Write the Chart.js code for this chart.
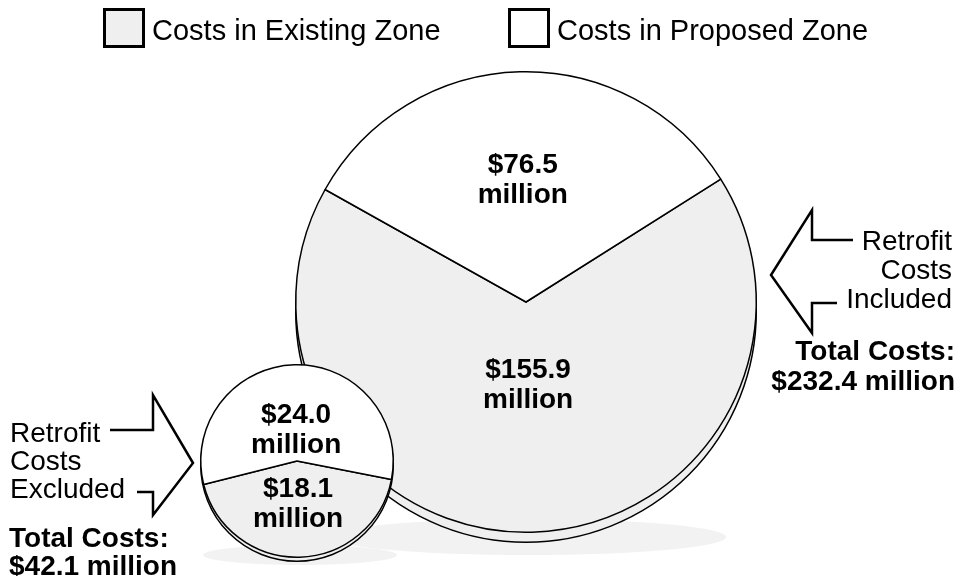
<!DOCTYPE html>
<html>
<head>
<meta charset="utf-8">
<script src="https://cdn.jsdelivr.net/npm/chart.js@4.4.1/dist/chart.umd.min.js"></script>
<style>
  body { margin: 0; background: #fff; }
  #wrap { position: relative; width: 961px; height: 576px; }
  #wrap canvas { position: absolute; left: 0; top: 0; }
</style>
</head>
<body>
<div id="wrap">
  <canvas id="pieIncluded" width="961" height="576"></canvas>
  <canvas id="pieExcluded" width="961" height="576"></canvas>
</div>
<script>
const zones = ['Costs in Existing Zone', 'Costs in Proposed Zone'];
const costsIncluded = [155.9, 76.5];   // retrofit costs included, $ million
const costsExcluded = [18.1, 24.0];    // retrofit costs excluded, $ million
const zoneColors = ['#efefef', '#ffffff'];

const font = (size, bold) => (bold ? 'bold ' : '') + size + 'px "Liberation Sans", Arial, sans-serif';
const total = vals => vals.reduce((a, b) => a + b, 0);
// keep the proposed-zone slice centred at the top
const rotationFor = vals => 180 * vals[1] / total(vals) - 1.5;

const pieRim = {
    id: 'pieRim',
    beforeDatasetsDraw(chart, args, opts) {
        const arc = chart.getDatasetMeta(0).data[0];
        const ctx = chart.ctx;
        ctx.save();
        ctx.beginPath();
        ctx.arc(arc.x, arc.y + opts.drop, arc.outerRadius, 0, Math.PI * 2);
        ctx.fillStyle = '#efefef';
        ctx.fill();
        ctx.lineWidth = 1.5;
        ctx.strokeStyle = '#000';
        ctx.stroke();
        ctx.restore();
    }
};

const sliceLabels = {
    id: 'sliceLabels',
    afterDatasetsDraw(chart, args, opts) {
        const ctx = chart.ctx;
        const values = chart.data.datasets[0].data;
        chart.getDatasetMeta(0).data.forEach((arc, i) => {
            const mid = (arc.startAngle + arc.endAngle) / 2;
            const d = arc.outerRadius * opts.depth[i];
            const x = arc.x + Math.cos(mid) * d;
            const y = arc.y + Math.sin(mid) * d;
            ctx.save();
            ctx.font = font(28, true);
            ctx.fillStyle = '#000';
            ctx.textAlign = 'center';
            ctx.textBaseline = 'alphabetic';
            ctx.fillText('$' + values[i].toFixed(1), x, y - 5);
            ctx.fillText('million', x, y + 25);
            ctx.restore();
        });
    }
};

const drawArrow = (ctx, pts) => {
    ctx.beginPath();
    pts.forEach((p, i) => i ? ctx.lineTo(p[0], p[1]) : ctx.moveTo(p[0], p[1]));
    ctx.stroke();
};

const writeLines = (ctx, lines, x, align, bold) => {
    ctx.font = font(28, bold);
    ctx.textAlign = align;
    lines.forEach(l => ctx.fillText(l[0], x, l[1]));
};

const decorations = {
    id: 'decorations',
    beforeDraw(chart) {
        const ctx = chart.ctx;
        ctx.save();
        ctx.fillStyle = '#f2f2f2';
        ctx.beginPath();
        ctx.ellipse(528, 537, 198, 18, 0, 0, Math.PI * 2);
        ctx.fill();
        ctx.beginPath();
        ctx.ellipse(300, 555, 97, 10, 0, 0, Math.PI * 2);
        ctx.fill();
        ctx.restore();
    },
    afterDraw(chart) {
        const ctx = chart.ctx;
        ctx.save();
        ctx.fillStyle = '#000';
        ctx.textBaseline = 'alphabetic';

        // legend
        const boxX = [103, 508];
        zones.forEach((z, i) => {
            ctx.fillStyle = zoneColors[i];
            ctx.fillRect(boxX[i], 8, 42, 40);
            ctx.lineWidth = 3;
            ctx.strokeStyle = '#000';
            ctx.strokeRect(boxX[i] + 1.5, 9.5, 39, 37);
            ctx.fillStyle = '#000';
            ctx.font = font(29, false);
            ctx.textAlign = 'left';
            ctx.fillText(z, boxX[i] + 49, 39.5);
        });

        // arrows
        ctx.lineWidth = 2.5;
        ctx.lineJoin = 'miter';
        ctx.strokeStyle = '#000';
        drawArrow(ctx, [[110, 430], [153, 430], [153, 395], [193, 463], [153, 515], [153, 492], [137, 492]]);
        drawArrow(ctx, [[853, 240], [812, 240], [812, 210], [771, 275], [812, 333], [812, 303], [837, 303]]);

        // side notes
        writeLines(ctx, [['Retrofit', 442], ['Costs', 470], ['Excluded', 498]], 10, 'left', false);
        writeLines(ctx, [['Total Costs:', 547], ['$' + total(costsExcluded).toFixed(1) + ' million', 575]], 9, 'left', true);
        writeLines(ctx, [['Retrofit', 250], ['Costs', 279], ['Included', 308]], 952, 'right', false);
        writeLines(ctx, [['Total Costs:', 360], ['$' + total(costsIncluded).toFixed(1) + ' million', 390]], 955, 'right', true);
        ctx.restore();
    }
};

const makePie = (id, values, padding, drop, depth, extra) => new Chart(document.getElementById(id), {
    type: 'pie',
    data: {
        labels: zones,
        datasets: [{
            data: values,
            backgroundColor: zoneColors,
            borderColor: '#000',
            borderWidth: 1.5
        }]
    },
    options: {
        responsive: false,
        animation: false,
        events: [],
        rotation: rotationFor(values),
        layout: { padding: padding },
        plugins: {
            legend: { display: false },
            tooltip: { enabled: false },
            pieRim: { drop: drop },
            sliceLabels: { depth: depth }
        }
    },
    plugins: [pieRim, sliceLabels].concat(extra)
});

makePie('pieIncluded', costsIncluded, { left: 295, right: 204, top: 71, bottom: 43 }, 10, [0.35, 0.54], [decorations]);
makePie('pieExcluded', costsExcluded, { left: 200, right: 567, top: 364, bottom: 18 }, 4, [0.43, 0.345], []);
</script>
</body>
</html>
